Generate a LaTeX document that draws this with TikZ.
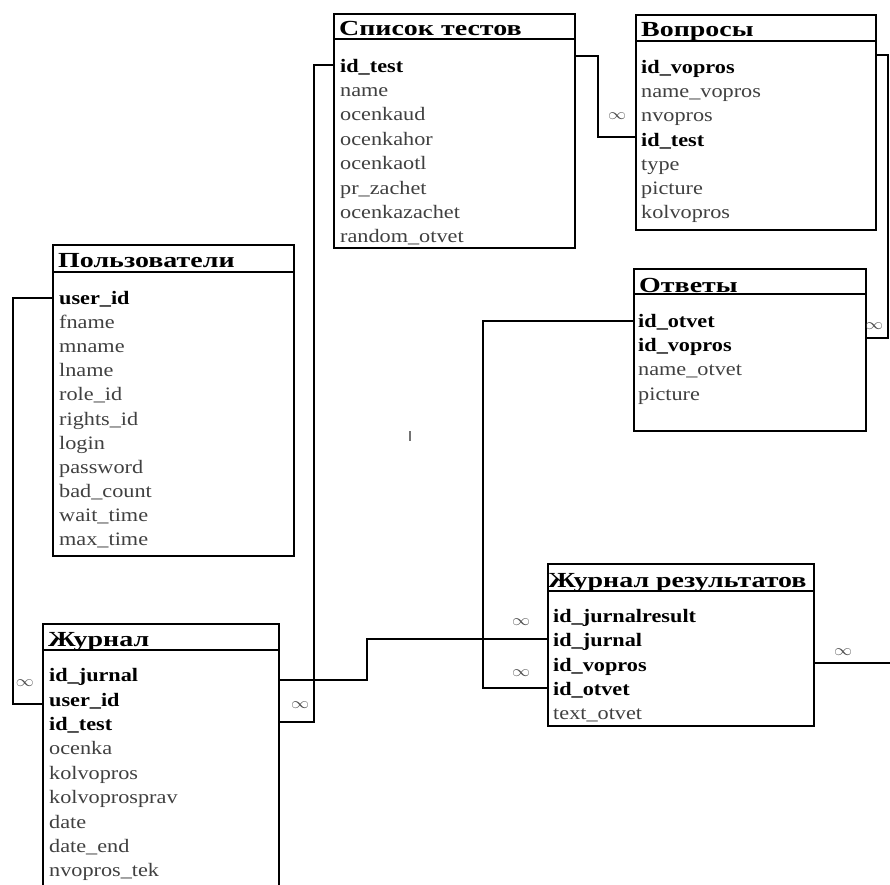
\documentclass[tikz,border=0pt]{standalone}
\usepackage{fontspec}
\setmainfont{Liberation Serif}[FakeStretch=1.17]
\newfontfamily\ttlfont{Liberation Serif}[FakeStretch=1.3]
\tikzset{
  tbl/.style={draw, line width=2pt, anchor=north west, inner sep=0pt, fill=white},
  ttl/.style={anchor=base west, inner sep=0pt, font=\ttlfont\fontsize{21.5}{21.5}\selectfont\bfseries},
  fld/.style={anchor=base west, inner sep=0pt, font=\fontsize{19}{19}\selectfont, text=black!75},
  key/.style={anchor=base west, inner sep=0pt, font=\fontsize{19}{19}\selectfont\bfseries, text=black},
  sepline/.style={line width=1.2pt},
  conn/.style={line width=2pt},
  inf/.style={inner sep=0pt, font=\fontsize{12}{12}\selectfont, text=black!70},
}
\newcommand\infmark{\scalebox{1.5}[1.3]{$\infty$}}
\begin{document}
\begin{tikzpicture}[x=1pt,y=-1pt]
\useasboundingbox (0,0) rectangle (890,884);
\clip (0,0) rectangle (890,884);
\fill[white] (0,0) rectangle (890,884);

% ---- Список тестов
\node[tbl, minimum width=241pt, minimum height=234pt] (st) at (333,13) {};
\draw[sepline] (st.west|-0,39) -- (st.east|-0,39);
\node[ttl] (stt) at (339,35) {Список тестов};
\foreach \f/\s [count=\i] in {id\_test/key, name/fld, ocenkaud/fld, ocenkahor/fld, ocenkaotl/fld, pr\_zachet/fld, ocenkazachet/fld, random\_otvet/fld}
  \node[\s] (st\i) at (340,{72+24.4*(\i-1)}) {\f};

% ---- Вопросы
\node[tbl, minimum width=240pt, minimum height=215pt] (vp) at (635,14) {};
\draw[sepline] (vp.west|-0,41) -- (vp.east|-0,41);
\node[ttl] (vpt) at (641,36) {Вопросы};
\foreach \f/\s [count=\i] in {id\_vopros/key, name\_vopros/fld, nvopros/fld, id\_test/key, type/fld, picture/fld, kolvopros/fld}
  \node[\s] (vp\i) at (641,{73.5+24.2*(\i-1)}) {\f};

% ---- Пользователи
\node[tbl, minimum width=241pt, minimum height=311pt] (us) at (52,244) {};
\draw[sepline] (us.west|-0,272) -- (us.east|-0,272);
\node[ttl] (ust) at (58,267) {Пользователи};
\foreach \f/\s [count=\i] in {user\_id/key, fname/fld, mname/fld, lname/fld, role\_id/fld, rights\_id/fld, login/fld, password/fld, bad\_count/fld, wait\_time/fld, max\_time/fld}
  \node[\s] (us\i) at (59,{304.5+24.1*(\i-1)}) {\f};

% ---- Журнал
\node[tbl, minimum width=236pt, minimum height=300pt] (jr) at (42,623) {};
\draw[sepline] (jr.west|-0,650) -- (jr.east|-0,650);
\node[ttl] (jrt) at (48,646.5) {Журнал};
\foreach \f/\s [count=\i] in {id\_jurnal/key, user\_id/key, id\_test/key, ocenka/fld, kolvopros/fld, kolvoprosprav/fld, date/fld, date\_end/fld, nvopros\_tek/fld}
  \node[\s] (jr\i) at (49,{681.7+24.4*(\i-1)}) {\f};

% ---- Ответы
\node[tbl, minimum width=232pt, minimum height=162pt] (ot) at (633,268) {};
\draw[sepline] (ot.west|-0,294) -- (ot.east|-0,294);
\node[ttl] (ott) at (639,292) {Ответы};
\foreach \f/\s [count=\i] in {id\_otvet/key, id\_vopros/key, name\_otvet/fld, picture/fld}
  \node[\s] (ot\i) at (638,{327.7+24.1*(\i-1)}) {\f};

% ---- Журнал результатов
\node[tbl, minimum width=266pt, minimum height=162pt] (jres) at (547,563) {};
\draw[sepline] (jres.west|-0,591) -- (jres.east|-0,591);
\node[ttl] (jrest) at (548,587) {Журнал результатов};
\foreach \f/\s [count=\i] in {id\_jurnalresult/key, id\_jurnal/key, id\_vopros/key, id\_otvet/key, text\_otvet/fld}
  \node[\s] (jres\i) at (553,{622.7+24.15*(\i-1)}) {\f};

% ---- connectors
\coordinate (gend) at (890,663);
\draw[conn] (us.west|-0,298) -- (13,298) -- (13,704) -- (jr.west|-0,704);
\draw[conn] (st.west|-0,65) -- (314,65) -- (314,722) -- (jr.east|-0,722);
\draw[conn] (jr.east|-0,680) -- (367,680) -- (367,639) -- (jres.west|-0,639);
\draw[conn] (st.east|-0,56) -- (598,56) -- (598,137) -- (vp.west|-0,137);
\draw[conn] (vp.east|-0,55) -- (888,55) -- (888,338) -- (ot.east|-0,338);
\draw[conn] (ot.west|-0,321) -- (483,321) -- (483,688) -- (jres.west|-0,688);
\draw[conn] (jres.east|-0,663) -- (gend);

% ---- cardinality marks
\node[inf] (i1) at (25,683) {\infmark};
\node[inf] (i2) at (300,705) {\infmark};
\node[inf] (i3) at (521,622) {\infmark};
\node[inf] (i4) at (617,116) {\infmark};
\node[inf] (i5) at (874,326) {\infmark};
\node[inf] (i6) at (521,673) {\infmark};
\node[inf] (i7) at (843,652) {\infmark};

% stray tick
\draw[line width=1.5pt, black!55] (410,431) -- (410,441);
\end{tikzpicture}
\end{document}
